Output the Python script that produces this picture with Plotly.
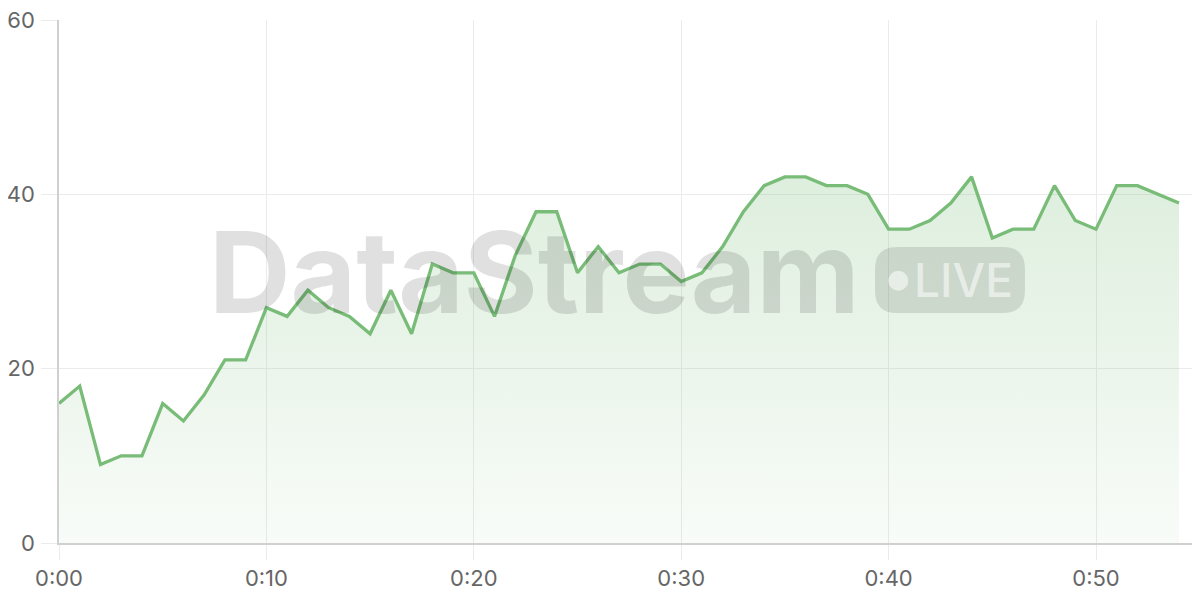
import plotly.graph_objects as go

# ---- data ----
minutes = list(range(55))
values = [16, 18, 9, 10, 10, 16, 14, 17, 21, 21,
          27, 26, 29, 27, 26, 24, 29, 24, 32, 31,
          31, 26, 33, 38, 38, 31, 34, 31, 32, 32,
          30, 31, 34, 38, 41, 42, 42, 41, 41, 40,
          36, 36, 37, 39, 42, 35, 36, 36, 41, 37,
          36, 41, 41, 40, 39]
x_tickvals = [0, 10, 20, 30, 40, 50]
x_ticktext = ["0:00", "0:10", "0:20", "0:30", "0:40", "0:50"]
y_tickvals = [0, 20, 40, 60]

# ---- layout geometry (page pixels; page body has an 8px margin) ----
OFF = 8
W, H = 1200 - 2 * OFF, 600 - 2 * OFF
PL, PR, PT, PB = 59, 1200 - OFF, 20, 543     # plot area in page pixels
ML, MR, MT, MB = PL - OFF, 0, PT - OFF, (H + OFF) - PB
PW, PH = PR - PL, PB - PT
PX_PER_MIN = (1096 - 59) / 50.0
X_END = (PR - PL) / PX_PER_MIN


def px(xp):
    return (xp - PL) / PW


def py(yp):
    return (PB - yp) / PH


LINE = "rgb(120,188,120)"
GRID = "#ebebeb"
FONT = "Inter, Roboto, sans-serif"

fig = go.Figure()
fig.add_trace(go.Scatter(
    x=minutes, y=values, mode="lines",
    line=dict(color=LINE, width=3.3),
    fill="tozeroy",
    fillgradient=dict(
        type="vertical", start=0, stop=45,
        colorscale=[[0, "rgba(120,188,120,0.05)"], [1, "rgba(120,188,120,0.26)"]],
    ),
    hoverinfo="skip",
    showlegend=False,
))

# watermark pill (rounded rect) for LIVE
x0, x1, t, b, r = 875, 1025, 247, 313, 22
pts = [
    ("M", [(x0 + r, t)]), ("L", [(x1 - r, t)]), ("Q", [(x1, t), (x1, t + r)]),
    ("L", [(x1, b - r)]), ("Q", [(x1, b), (x1 - r, b)]), ("L", [(x0 + r, b)]),
    ("Q", [(x0, b), (x0, b - r)]), ("L", [(x0, t + r)]), ("Q", [(x0, t), (x0 + r, t)]),
]
path = " ".join(
    cmd + " " + " ".join(f"{px(a):.5f},{py(c):.5f}" for a, c in p) for cmd, p in pts
) + " Z"

shapes = [
    dict(type="path", path=path, xref="paper", yref="paper",
         fillcolor="rgba(0,0,0,0.11)", line=dict(width=0), layer="above"),
    dict(type="circle", xref="paper", yref="paper",
         x0=px(888.3), x1=px(908.3), y0=py(290.7), y1=py(270.7),
         fillcolor="rgba(255,255,255,0.55)", line=dict(width=0), layer="above"),
]

annotations = [
    dict(text="DataStream", xref="paper", yref="paper", x=px(534), y=py(272),
         xanchor="center", yanchor="middle", showarrow=False,
         font=dict(family=FONT, size=113, color="rgba(0,0,0,0.12)", weight=700)),
    dict(text="LIVE", xref="paper", yref="paper", x=px(963), y=py(280),
         xanchor="center", yanchor="middle", showarrow=False,
         font=dict(family=FONT, size=46, color="rgba(255,255,255,0.55)", weight=500)),
]

fig.update_layout(
    width=W, height=H,
    margin=dict(l=ML, r=MR, t=MT, b=MB, pad=0, autoexpand=False),
    paper_bgcolor="white", plot_bgcolor="white",
    font=dict(family=FONT, size=22, color="#666666"),
    shapes=shapes, annotations=annotations,
    showlegend=False,
)
fig.update_xaxes(
    range=[0, X_END], tickvals=x_tickvals, ticktext=x_ticktext,
    showgrid=True, gridcolor=GRID, gridwidth=1.3,
    ticks="outside", ticklen=15, tickcolor=GRID, tickwidth=1.3,
    showline=True, linecolor="#d0d0d0", linewidth=1.5,
    zeroline=False, ticklabelstandoff=0, automargin=False,
    ticklabeloverflow="allow",
)
fig.update_yaxes(
    range=[0, 60], tickvals=y_tickvals,
    showgrid=True, gridcolor=GRID, gridwidth=1.3,
    ticks="outside", ticklen=16, tickcolor=GRID, tickwidth=1.3,
    showline=True, linecolor="#d0d0d0", linewidth=1.5,
    zeroline=False, ticklabelstandoff=2, automargin=False,
    ticklabeloverflow="allow",
)

fig.write_html("out.html")
